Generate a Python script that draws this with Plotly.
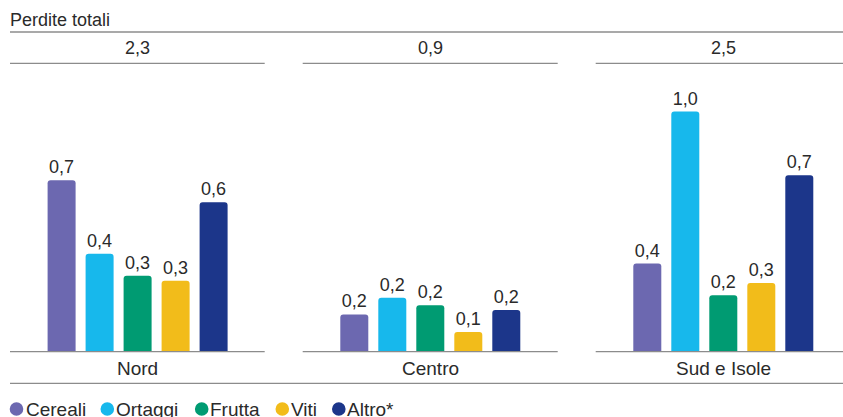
import plotly.graph_objects as go

# Perdite per area geografica e tipo di coltura
regions = ["Nord", "Centro", "Sud e Isole"]
totals = ["2,3", "0,9", "2,5"]
crops = ["Cereali", "Ortaggi", "Frutta", "Viti", "Altro*"]
nord = [0.70, 0.40, 0.31, 0.29, 0.61]
centro = [0.152, 0.22, 0.19, 0.08, 0.17]
sud = [0.36, 0.98, 0.23, 0.28, 0.72]
values = [nord, centro, sud]

colors = ["#6C68B0", "#17B8EC", "#009B72", "#F2BC1A", "#1C368A"]

W, H = 843, 417
FONT = "Liberation Sans"
TXT = "#2a2a2a"
LINE = "#8c8c8c"

# panel extents in pixels (left, right)
panels_px = [(10, 264.7), (302.7, 557.7), (595.7, 843)]
SLOT = 38.0          # px between bar centres
FIRST = 51.6         # px from panel edge to first bar centre
BASE_PX = 351.7      # baseline
TOP_PX = 70.0        # top of plotting area
PX_PER_UNIT = 245.0


def px_x(p):
    return p / W


def px_y(p):
    return 1 - p / H


fig = go.Figure()
layout_axes = {}
for i, (reg, vals) in enumerate(zip(regions, values)):
    ax = "" if i == 0 else str(i + 1)
    left, right = panels_px[i]
    r0 = -FIRST / SLOT
    r1 = r0 + (right - left) / SLOT
    layout_axes["xaxis" + ax] = dict(
        domain=[px_x(left), px_x(right)], range=[r0, r1], anchor="y",
        visible=False, fixedrange=True,
    )
    for j, (crop, v) in enumerate(zip(crops, vals)):
        fig.add_trace(go.Bar(
            x=[j], y=[v], width=28 / SLOT,
            xaxis="x" + ax, yaxis="y",
            marker=dict(color=colors[j], line=dict(width=0), cornerradius=3),
            text=[f"{v:.1f}".replace(".", ",")],
            textposition="outside",
            textfont=dict(family=FONT, size=18, color=TXT),
            cliponaxis=False, showlegend=False, hoverinfo="skip",
        ))

fig.update_layout(**layout_axes)
fig.update_layout(
    yaxis=dict(domain=[px_y(BASE_PX), px_y(TOP_PX)],
               range=[0, (BASE_PX - TOP_PX) / PX_PER_UNIT], visible=False,
               fixedrange=True),
    width=W, height=H, margin=dict(l=0, r=0, t=0, b=0),
    paper_bgcolor="white", plot_bgcolor="white",
    barmode="overlay", showlegend=False,
    font=dict(family=FONT, color=TXT),
)

shapes = []
annotations = []


def hline(x0, x1, y):
    shapes.append(dict(type="line", xref="paper", yref="paper",
                       x0=px_x(x0), x1=px_x(x1), y0=px_y(y), y1=px_y(y),
                       line=dict(color=LINE, width=1.3)))


hline(10, W, 32)
hline(10, W, 383.3)
for i, (left, right) in enumerate(panels_px):
    hline(left, right, 63.3)
    hline(left, right, BASE_PX)
    centre = left + FIRST + 2 * SLOT
    annotations.append(dict(text=totals[i], x=px_x(centre), y=px_y(48),
                            xref="paper", yref="paper", showarrow=False,
                            xanchor="center", yanchor="middle",
                            font=dict(size=18, family=FONT, color=TXT)))
    annotations.append(dict(text=regions[i], x=px_x(centre), y=px_y(368),
                            xref="paper", yref="paper", showarrow=False,
                            xanchor="center", yanchor="middle",
                            font=dict(size=19, family=FONT, color=TXT)))

annotations.append(dict(text="Perdite totali", x=px_x(8), y=px_y(20),
                        xref="paper", yref="paper", showarrow=False,
                        xanchor="left", yanchor="middle",
                        font=dict(size=18, family=FONT, color=TXT)))

# legend row: coloured dots followed by the crop names
dot_cx = [16.5, 107.3, 201.7, 282.3, 338.8]
text_x = [23.5, 113.5, 207.5, 288.5, 344.5]
R = 6.8
for crop, col, cx, tx in zip(crops, colors, dot_cx, text_x):
    shapes.append(dict(type="circle", xref="paper", yref="paper",
                       x0=px_x(cx - R), x1=px_x(cx + R),
                       y0=px_y(409 + R), y1=px_y(409 - R),
                       fillcolor=col, line=dict(width=0)))
    annotations.append(dict(
        text=crop, x=px_x(tx), y=px_y(409.5), xref="paper", yref="paper",
        showarrow=False, xanchor="left", yanchor="middle",
        font=dict(size=19, family=FONT, color=TXT)))

fig.update_layout(shapes=shapes, annotations=annotations)
fig.write_html("out.html")
